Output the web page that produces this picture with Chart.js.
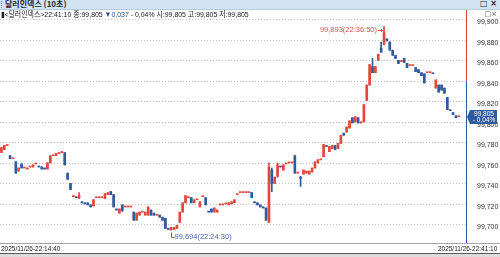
<!DOCTYPE html>
<html>
<head>
<meta charset="utf-8">
<script src="https://cdn.jsdelivr.net/npm/chart.js@4"></script>
<style>
  body { margin: 0; width: 500px; height: 257px; overflow: hidden; background: #fff; }
  #wrap { position: relative; width: 500px; height: 257px; font-family: "Liberation Sans", "Noto Sans CJK KR", sans-serif; }
  #dollarIndexChart { position: absolute; left: 0; top: 0; }
  .titlebar { position: absolute; left: 0; top: 0; width: 500px; height: 10px; background: #d3e3f3; border-bottom: 1px solid #b8cce0; box-sizing: border-box; }
  .titlebar .t { position: absolute; left: 5px; top: -1px; font: bold 8px/10px "Noto Sans CJK KR", sans-serif; color: #1d2535; }
  .titlebar .grip { position: absolute; left: 1px; top: 1px; width: 1px; height: 7px; border-left: 1px dotted #7c8ea3; }
  .titlebar .btn { position: absolute; right: 3px; top: -1px; font: bold 8px/10px "DejaVu Sans", sans-serif; color: #1d2535; }
  .info { position: absolute; left: 1px; top: 10px; height: 9px; font-size: 8px; line-height: 9px; color: #222; white-space: nowrap; transform: scaleX(0.865); transform-origin: 0 0; }
  .info .dn { color: #2b4f9a; }
  .mini { position: absolute; right: 3px; top: 10px; font: 7px/9px "DejaVu Sans", sans-serif; color: #555; }
  .xline { position: absolute; left: 0; top: 243px; width: 500px; height: 1px; background: #a6a6a6; }
  .date { position: absolute; top: 244px; font-size: 8px; line-height: 9px; color: #222; white-space: nowrap; transform: scaleX(0.81); }
  #dateLeft { left: 1px; transform-origin: 0 0; }
  #dateRight { right: 3px; transform-origin: 100% 0; }
  .footline { position: absolute; left: 0; top: 253px; width: 500px; height: 1px; background: #5a5a5a; }
  .footfill { position: absolute; left: 0; top: 254px; width: 500px; height: 3px; background: #dcdcdc; }
</style>
</head>
<body>
<div id="wrap">
  <canvas id="dollarIndexChart" width="500" height="257"></canvas>
  <div class="titlebar"><span class="grip"></span><span class="t">달러인덱스 (10초)</span><span class="btn">□ ×</span></div>
  <div class="info">▮&lt;달러인덱스&gt;22:41:10 종:99,805 <span class="dn">▼0,037</span> - 0,04% 시:99,805 고:99,805 저:99,805</div>
  <div class="mini">□×</div>
  <div class="xline"></div>
  <div class="date" id="dateLeft"></div>
  <div class="date" id="dateRight"></div>
  <div class="footline"></div>
  <div class="footfill"></div>
</div>
<script>
// 10-second candles, 22:14:40 .. 22:41:10
const xLabels = ['2025/11/26-22:14:40', '2025/11/26-22:41:10'];
const yTicks = [99.70, 99.72, 99.74, 99.76, 99.78, 99.80, 99.82, 99.84, 99.86, 99.88, 99.90];

const opens = [
  99.770, 99.773, 99.777, 99.767, 99.764, 99.761, 99.752, 99.759, 99.755, 99.754,
  99.756, 99.756, 99.759, 99.756, 99.756, 99.755, 99.754, 99.760, 99.767, 99.767,
  99.769, 99.770, 99.770, 99.750, 99.740, 99.727, 99.726, 99.726, 99.722, 99.721,
  99.721, 99.719, 99.718, 99.726, 99.726, 99.726, 99.725, 99.729, 99.732, 99.729,
  99.715, 99.711, 99.719, 99.717, 99.717, 99.717, 99.712, 99.704, 99.709, 99.712,
  99.709, 99.709, 99.714, 99.711, 99.709, 99.709, 99.707, 99.706, 99.696, 99.695,
  99.695, 99.696, 99.702, 99.712, 99.721, 99.726, 99.726, 99.721, 99.724, 99.717,
  99.727, 99.726, 99.712, 99.715, 99.712, 99.712, 99.719, 99.719, 99.720, 99.719,
  99.720, 99.721, 99.729, 99.731, 99.731, 99.731, 99.731, 99.731, 99.722, 99.721,
  99.719, 99.717, 99.716, 99.702, 99.753, 99.740, 99.747, 99.756, 99.753, 99.759,
  99.760, 99.760, 99.767, 99.750, 99.746, 99.749, 99.750, 99.749, 99.751, 99.755,
  99.760, 99.763, 99.766, 99.776, 99.771, 99.774, 99.777, 99.774, 99.779, 99.789,
  99.790, 99.794, 99.804, 99.800, 99.804, 99.799, 99.800, 99.821, 99.836, 99.854,
  99.848, 99.860, 99.872, 99.876, 99.881, 99.878, 99.870, 99.865, 99.860, 99.859,
  99.862, 99.857, 99.855, 99.855, 99.853, 99.851, 99.848, 99.847, 99.848, 99.848,
  99.847, 99.833, 99.836, 99.836, 99.833, 99.824, 99.811, 99.809, 99.806, 99.805
];
const highs = [
  99.775, 99.777, 99.777, 99.767, 99.764, 99.761, 99.755, 99.759, 99.755, 99.755,
  99.756, 99.758, 99.759, 99.756, 99.756, 99.755, 99.760, 99.767, 99.767, 99.769,
  99.770, 99.771, 99.770, 99.750, 99.740, 99.728, 99.726, 99.731, 99.722, 99.721,
  99.721, 99.719, 99.724, 99.726, 99.726, 99.726, 99.730, 99.731, 99.732, 99.729,
  99.715, 99.715, 99.719, 99.717, 99.717, 99.717, 99.712, 99.711, 99.712, 99.712,
  99.712, 99.717, 99.714, 99.711, 99.709, 99.709, 99.707, 99.706, 99.696, 99.697,
  99.697, 99.699, 99.712, 99.721, 99.728, 99.727, 99.726, 99.724, 99.724, 99.722,
  99.727, 99.726, 99.712, 99.715, 99.716, 99.714, 99.719, 99.719, 99.720, 99.721,
  99.722, 99.724, 99.729, 99.731, 99.731, 99.731, 99.731, 99.731, 99.722, 99.721,
  99.719, 99.717, 99.716, 99.760, 99.755, 99.746, 99.760, 99.756, 99.758, 99.759,
  99.760, 99.760, 99.767, 99.750, 99.747, 99.753, 99.752, 99.752, 99.755, 99.761,
  99.763, 99.763, 99.778, 99.776, 99.776, 99.777, 99.777, 99.779, 99.787, 99.789,
  99.795, 99.801, 99.804, 99.805, 99.804, 99.800, 99.817, 99.836, 99.856, 99.862,
  99.854, 99.866, 99.878, 99.893, 99.881, 99.878, 99.870, 99.865, 99.860, 99.859,
  99.862, 99.857, 99.855, 99.855, 99.853, 99.851, 99.848, 99.847, 99.848, 99.848,
  99.847, 99.841, 99.836, 99.836, 99.833, 99.824, 99.811, 99.809, 99.806, 99.805
];
const lows = [
  99.770, 99.773, 99.777, 99.764, 99.764, 99.750, 99.752, 99.755, 99.755, 99.754,
  99.756, 99.756, 99.759, 99.756, 99.754, 99.754, 99.754, 99.760, 99.767, 99.767,
  99.769, 99.770, 99.758, 99.744, 99.734, 99.727, 99.726, 99.725, 99.721, 99.720,
  99.719, 99.717, 99.718, 99.726, 99.726, 99.726, 99.725, 99.729, 99.729, 99.717,
  99.714, 99.711, 99.713, 99.717, 99.717, 99.717, 99.704, 99.704, 99.709, 99.712,
  99.709, 99.709, 99.709, 99.709, 99.709, 99.707, 99.704, 99.696, 99.695, 99.694,
  99.695, 99.696, 99.702, 99.712, 99.721, 99.726, 99.721, 99.721, 99.724, 99.717,
  99.727, 99.719, 99.712, 99.712, 99.712, 99.712, 99.719, 99.719, 99.720, 99.719,
  99.720, 99.721, 99.729, 99.731, 99.731, 99.731, 99.731, 99.726, 99.721, 99.719,
  99.717, 99.716, 99.704, 99.702, 99.732, 99.740, 99.746, 99.756, 99.753, 99.759,
  99.760, 99.760, 99.750, 99.750, 99.737, 99.749, 99.750, 99.749, 99.751, 99.755,
  99.760, 99.763, 99.766, 99.776, 99.771, 99.774, 99.773, 99.774, 99.779, 99.787,
  99.790, 99.794, 99.799, 99.800, 99.799, 99.799, 99.800, 99.821, 99.836, 99.848,
  99.848, 99.860, 99.868, 99.875, 99.879, 99.870, 99.865, 99.862, 99.857, 99.859,
  99.858, 99.853, 99.855, 99.855, 99.849, 99.848, 99.845, 99.838, 99.848, 99.848,
  99.847, 99.833, 99.829, 99.831, 99.828, 99.812, 99.811, 99.807, 99.804, 99.805
];
const closes = [
  99.775, 99.777, 99.777, 99.764, 99.764, 99.750, 99.755, 99.755, 99.755, 99.755,
  99.756, 99.758, 99.759, 99.756, 99.754, 99.754, 99.760, 99.767, 99.767, 99.769,
  99.770, 99.771, 99.758, 99.744, 99.734, 99.728, 99.726, 99.728, 99.721, 99.720,
  99.719, 99.717, 99.724, 99.726, 99.726, 99.726, 99.730, 99.731, 99.729, 99.717,
  99.714, 99.715, 99.713, 99.717, 99.717, 99.717, 99.704, 99.711, 99.712, 99.712,
  99.712, 99.717, 99.709, 99.709, 99.709, 99.707, 99.704, 99.696, 99.695, 99.697,
  99.697, 99.699, 99.712, 99.721, 99.728, 99.727, 99.721, 99.724, 99.724, 99.722,
  99.727, 99.719, 99.712, 99.712, 99.716, 99.714, 99.719, 99.719, 99.720, 99.721,
  99.722, 99.724, 99.729, 99.731, 99.731, 99.731, 99.731, 99.726, 99.721, 99.719,
  99.717, 99.716, 99.704, 99.756, 99.740, 99.746, 99.758, 99.756, 99.758, 99.759,
  99.760, 99.760, 99.750, 99.750, 99.745, 99.753, 99.752, 99.752, 99.755, 99.761,
  99.763, 99.763, 99.778, 99.776, 99.776, 99.777, 99.773, 99.779, 99.787, 99.787,
  99.795, 99.801, 99.799, 99.805, 99.799, 99.800, 99.817, 99.836, 99.856, 99.848,
  99.854, 99.866, 99.868, 99.887, 99.879, 99.870, 99.865, 99.862, 99.857, 99.859,
  99.858, 99.853, 99.855, 99.855, 99.849, 99.848, 99.845, 99.838, 99.848, 99.848,
  99.847, 99.841, 99.829, 99.831, 99.828, 99.812, 99.811, 99.807, 99.804, 99.805
];

// marked extremes: [candle index, label]
const highMark = [133, '99,893(22:36:50)'];
const lowMark = [59, '99,694(22:24:30)'];
const changeText = '- 0,04%';
const axisSplit = 99.84; // axis line red above, blue below

const upColor = '#e3483e';
const downColor = '#2f5a9e';
const fmt = v => v.toFixed(3).replace('.', ',');

document.getElementById('dateLeft').textContent = xLabels[0];
document.getElementById('dateRight').textContent = xLabels[1];

const colors = closes.map((c, i) => {
  if (c > opens[i]) return upColor;
  if (c < opens[i]) return downColor;
  return i > 0 && c < closes[i - 1] ? downColor : upColor;
});

const overlay = {
  id: 'overlay',
  beforeDatasetsDraw(chart) {
    const { ctx, chartArea: a, scales: { y } } = chart;
    ctx.save();
    ctx.strokeStyle = '#c4c4c4';
    ctx.lineWidth = 1;
    ctx.setLineDash([1, 2]);
    yTicks.forEach(v => {
      const py = Math.round(y.getPixelForValue(v)) + 0.5;
      ctx.beginPath(); ctx.moveTo(a.left, py); ctx.lineTo(a.right, py); ctx.stroke();
    });
    ctx.restore();
  },
  afterDatasetsDraw(chart) {
    const { ctx, chartArea: a, scales: { x, y } } = chart;
    ctx.save();
    // axis line
    const ax = Math.round(a.right) + 0.5;
    const sy = y.getPixelForValue(axisSplit);
    ctx.lineWidth = 1;
    ctx.strokeStyle = '#e0453c';
    ctx.beginPath(); ctx.moveTo(ax, a.top); ctx.lineTo(ax, sy); ctx.stroke();
    ctx.strokeStyle = '#2f5a9e';
    ctx.beginPath(); ctx.moveTo(ax, sy); ctx.lineTo(ax, a.bottom); ctx.stroke();

    ctx.font = '7.5px "Liberation Sans", sans-serif';
    ctx.textBaseline = 'middle';
    // high mark
    let px = x.getPixelForValue(highMark[0]);
    let py = y.getPixelForValue(highs[highMark[0]]) + 3;
    ctx.fillStyle = '#d9534a';
    ctx.strokeStyle = '#d9534a';
    ctx.textAlign = 'right';
    ctx.fillText(highMark[1], px - 7, py);
    ctx.beginPath(); ctx.moveTo(px - 6, Math.round(py) + 0.5); ctx.lineTo(px - 1, Math.round(py) + 0.5); ctx.stroke();
    ctx.beginPath(); ctx.moveTo(px - 1, Math.round(py) + 0.5); ctx.lineTo(px - 3, Math.round(py) - 1.5); ctx.lineTo(px - 3, Math.round(py) + 2.5); ctx.closePath(); ctx.fill();
    // low mark
    px = Math.round(x.getPixelForValue(lowMark[0])) + 0.5;
    py = y.getPixelForValue(lows[lowMark[0]]);
    const ly = Math.round(py + 7) + 0.5;
    ctx.fillStyle = '#4a6aa3';
    ctx.strokeStyle = '#4a6aa3';
    ctx.beginPath(); ctx.moveTo(px, py + 2); ctx.lineTo(px, ly); ctx.lineTo(px + 3, ly); ctx.stroke();
    ctx.textAlign = 'left';
    ctx.fillText(lowMark[1], px + 3, ly - 1);
    // last price box
    const last = closes[closes.length - 1];
    const yc = Math.round(y.getPixelForValue(last));
    ctx.fillStyle = '#2f5a9e';
    ctx.beginPath();
    ctx.moveTo(a.right + 1, yc);
    ctx.lineTo(a.right + 4, yc - 7);
    ctx.lineTo(a.right + 31, yc - 7);
    ctx.lineTo(a.right + 31, yc + 7);
    ctx.lineTo(a.right + 4, yc + 7);
    ctx.closePath();
    ctx.fill();
    ctx.fillStyle = '#fff';
    ctx.font = '6.5px "Liberation Sans", sans-serif';
    ctx.textAlign = 'center';
    ctx.fillText(fmt(last), a.right + 18, yc - 3);
    ctx.fillText(changeText, a.right + 18, yc + 3.5);
    ctx.restore();
  }
};

new Chart(document.getElementById('dollarIndexChart'), {
  type: 'bar',
  data: {
    datasets: [
      {
        label: 'body',
        data: opens.map((o, i) => ({ x: i, y: [o, closes[i]] })),
        backgroundColor: colors,
        barThickness: 2,
        minBarLength: 1,
        grouped: false
      },
      {
        label: 'wick',
        data: lows.map((l, i) => ({ x: i, y: [l, highs[i]] })),
        backgroundColor: colors,
        barThickness: 1,
        grouped: false
      }
    ]
  },
  options: {
    responsive: false,
    animation: false,
    devicePixelRatio: 1,
    layout: { padding: { top: 10, bottom: 14, left: 0, right: 0 } },
    plugins: { legend: { display: false }, tooltip: { enabled: false } },
    scales: {
      x: { type: 'linear', min: -0.5, max: 161.5, offset: false, display: false },
      y: {
        position: 'right',
        min: 99.6818,
        max: 99.9092,
        afterBuildTicks: s => { s.ticks = yTicks.map(v => ({ value: v })); },
        afterFit: s => { s.width = 34; },
        grid: { display: false },
        border: { display: false },
        ticks: {
          padding: 3,
          labelOffset: 3,
          color: '#333',
          font: { family: '"Liberation Sans", sans-serif', size: 7 },
          callback: v => fmt(v)
        }
      }
    }
  },
  plugins: [overlay]
});
</script>
</body>
</html>
